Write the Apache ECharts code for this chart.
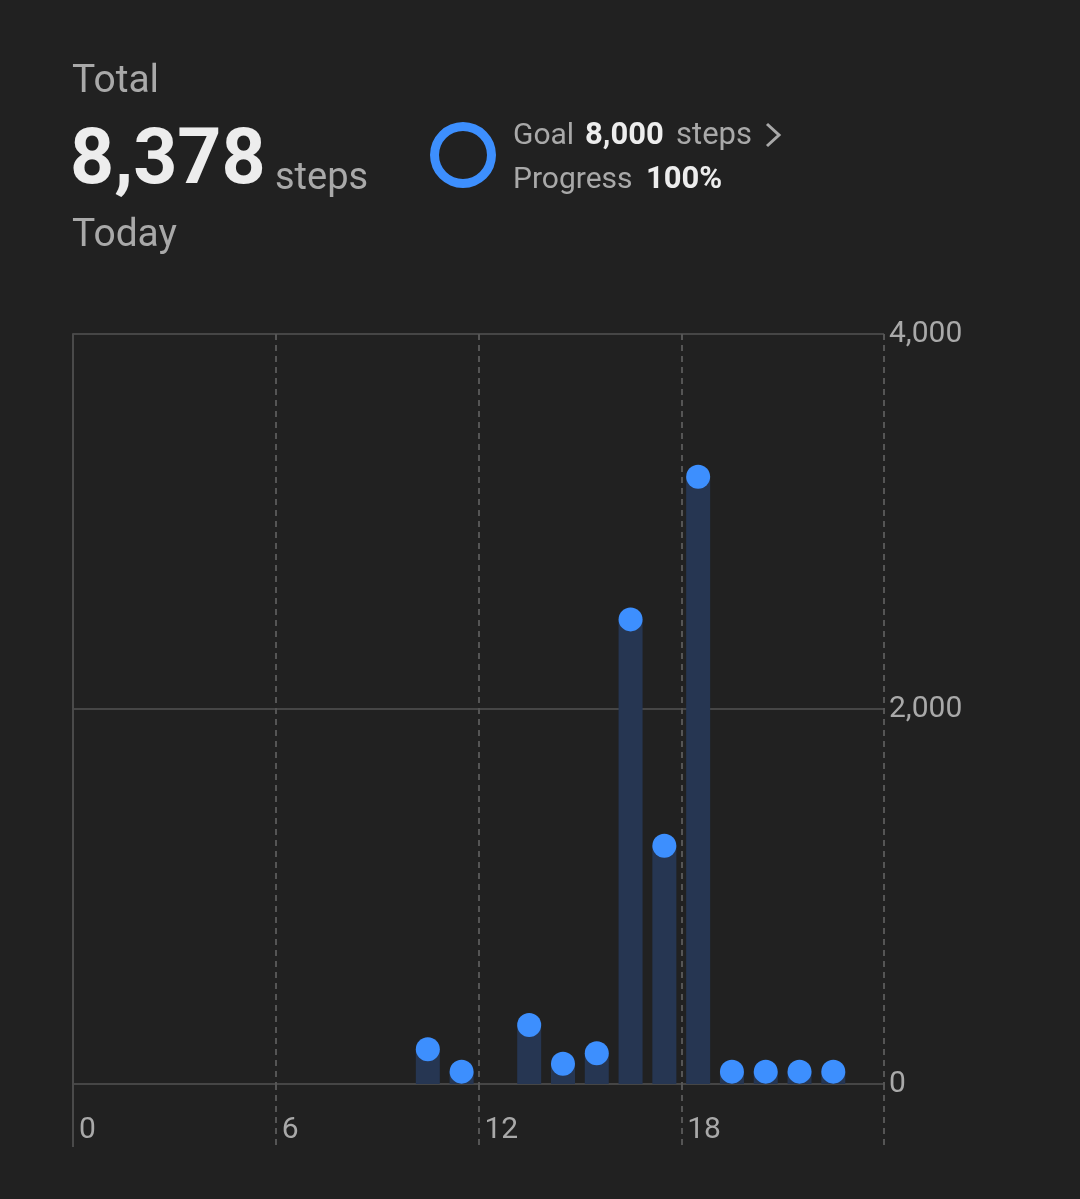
<!DOCTYPE html>
<html>
<head>
<meta charset="utf-8">
<style>
  html, body { margin: 0; padding: 0; background: #212121; }
  #main { width: 1080px; height: 1199px; }
</style>
<script src="https://cdn.jsdelivr.net/npm/echarts@6/dist/echarts.min.js"></script>
</head>
<body>
<div id="main"></div>
<script>
// hourly steps, null = no data for that hour
let hours = [];
for (let h = 0; h < 24; h++) hours.push(h);
let stepValues = [null, null, null, null, null, null, null, null, null, null,
  185, 66, null, 315, 108, 164, 2478, 1271, 3239, 66, 66, 66, 66, null];
let hourTicks = [0, 6, 12, 18, 24];
let stepTicks = [0, 2000, 4000];
let totalSteps = 8378;
let goalSteps = 8000;
let progressPct = 100;

let grey = '#a9a9a9';
let white = '#ededed';
let font = 'Roboto';

function fmt(n) {
  return n.toString().replace(/\B(?=(\d{3})+(?!\d))/g, ',');
}

function txt(x, y, s, size, color, bold) {
  return {
    type: 'text', x: x, y: y,
    style: {
      text: s, fill: color, fontSize: size, fontFamily: font,
      fontWeight: bold ? 'bold' : 'normal', verticalAlign: 'middle'
    }
  };
}

var option = {
  backgroundColor: '#212121',
  animation: false,
  graphic: [
    txt(72, 82, 'Total', 39, grey),
    txt(70, 164, fmt(totalSteps), 77, white, true),
    txt(275, 179, 'steps', 38, grey),
    txt(72, 236, 'Today', 39, grey),
    txt(513, 136, 'Goal', 30, grey),
    txt(585, 136, fmt(goalSteps), 31, white, true),
    txt(676, 136, 'steps', 31, grey),
    txt(513, 180, 'Progress', 30, grey),
    txt(646, 180, progressPct + '%', 31, white, true),
    {
      type: 'polyline',
      shape: { points: [[767, 124], [779, 135], [767, 146]] },
      style: { stroke: grey, lineWidth: 3, fill: null }
    }
  ],
  grid: { left: 73, right: 196, top: 334, bottom: 115 },
  xAxis: [
    {
      type: 'value', min: 0, max: 24, interval: 6, position: 'bottom',
      axisLine: { show: false },
      axisTick: { show: true, length: 62, lineStyle: { color: '#555', width: 2, type: [6, 5] } },
      splitLine: { show: true, lineStyle: { color: '#555', width: 2, type: [6, 5] } },
      axisLabel: {
        color: grey, fontSize: 30, fontFamily: font, align: 'left', margin: 31,
        padding: [0, 0, 0, 6],
        formatter: function (v) { return hourTicks.indexOf(v) >= 0 && v < 24 ? String(v) : ''; }
      }
    },
    {
      // solid left edge below the baseline
      type: 'value', min: 0, max: 24, position: 'bottom',
      axisLine: { show: false },
      axisLabel: { show: false },
      splitLine: { show: false },
      axisTick: { show: true, length: 63, customValues: [0], lineStyle: { color: '#4a4a4a', width: 2 } }
    },
    {
      type: 'category', data: hours, show: false, boundaryGap: true
    }
  ],
  yAxis: [
    {
      type: 'value', position: 'right', min: 0, max: 4000, interval: 2000,
      axisLine: { show: false },
      axisTick: { show: false },
      splitLine: { lineStyle: { color: '#464646', width: 2 } },
      axisLabel: {
        color: grey, fontSize: 30, fontFamily: font, margin: 5,
        formatter: function (v) { return stepTicks.indexOf(v) >= 0 ? fmt(v) : ''; }
      }
    },
    {
      type: 'value', position: 'left', min: 0, max: 4000,
      axisLine: { show: true, lineStyle: { color: '#4a4a4a', width: 2 } },
      axisTick: { show: false },
      axisLabel: { show: false },
      splitLine: { show: false }
    }
  ],
  series: [
    {
      type: 'pie',
      center: [463, 155],
      radius: [24, 33],
      silent: true,
      label: { show: false },
      labelLine: { show: false },
      startAngle: 90,
      data: [
        { value: progressPct, itemStyle: { color: '#3d8ffe' } },
        { value: Math.max(0, 100 - progressPct), itemStyle: { color: '#2b3a52' } }
      ]
    },
    {
      type: 'bar',
      xAxisIndex: 2,
      yAxisIndex: 0,
      barWidth: 24,
      itemStyle: { color: '#263652' },
      data: stepValues,
      z: 2
    },
    {
      type: 'scatter',
      xAxisIndex: 2,
      yAxisIndex: 0,
      symbolSize: 24,
      itemStyle: { color: '#3d8ffe', opacity: 1 },
      data: stepValues,
      z: 3
    }
  ]
};

var chart = echarts.init(document.getElementById('main'), null, { width: 1080, height: 1199 });
chart.setOption(option);
</script>
</body>
</html>
